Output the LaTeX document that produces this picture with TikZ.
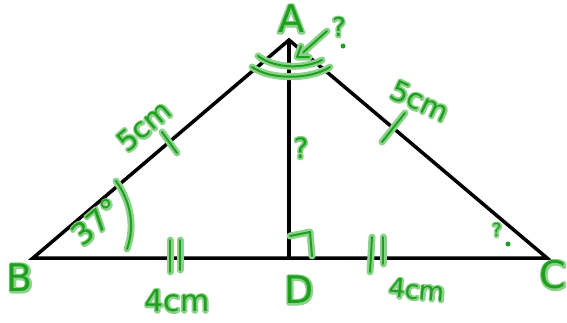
\documentclass[tikz,border=0pt]{standalone}
\usepackage{fontspec}
\setmainfont{DejaVu Sans}
\definecolor{hg}{RGB}{30,160,30}
\definecolor{halo}{RGB}{140,210,140}
\definecolor{tg}{RGB}{30,160,30}
\newcommand{\glowtxt}[1]{\rlap{\special{pdf:literal direct 0.55 0.82 0.55 RG 3.6 w 1 j 1 J 1 Tr}#1\special{pdf:literal direct 0 Tr}}#1}
\begin{document}
\begin{tikzpicture}[x=1pt,y=-1pt,
  edge/.style={draw=black,line width=3.5pt,line join=miter},
  hand/.style={draw=hg,line width=2pt,line cap=round,line join=round,
    preaction={draw=halo,line width=7pt,line cap=round,line join=round}},
  lab/.style={text=tg,inner sep=0pt,font=\fontsize{#1}{#1}\selectfont},
  lab/.default=30]
\useasboundingbox (0,0) rectangle (567,322);
\coordinate (A) at (289,40);
\coordinate (B) at (33,258);
\coordinate (C) at (547,258);
\coordinate (D) at (289,258);
\draw[edge] (B) -- (A) -- (C) -- cycle;
\draw[edge] (A) -- (D);
% marks
\draw[hand] (162,132) -- (177,153);
\draw[hand] (405,113) -- (382,142);
\draw[hand] (170,240) -- (170,272);
\draw[hand] (180,240) -- (180,270);
\draw[hand] (372,237) -- (370,272);
\draw[hand] (383,237) -- (383,264);
\draw[hand] (290,236) -- (310,232) -- (312,256);
\draw[hand] (116,181) .. controls (133,205) and (134,230) .. (127,249);
\draw[hand] (258,56) .. controls (275,69) and (305,69) .. (322,60);
\draw[hand] (252,67) .. controls (270,80) and (310,80) .. (330,67);
\draw[hand] (327,31) -- (298,57);
\draw[hand] (301,46) -- (297,57) -- (309,57);
\fill[hg] (343,46) circle (2.5);
\fill[hg] (508,244) circle (2.5);
% labels
\node[lab=38] (lA) at (291,19) {\glowtxt{A}};
\node[lab=38] (lB) at (20,278) {\glowtxt{B}};
\node[lab=38] (lC) at (553,275) {\glowtxt{C}};
\node[lab=38] (lD) at (299,290) {\glowtxt{D}};
\node[lab=28,rotate=40] (l5a) at (144,126) {\glowtxt{5cm}};
\node[lab=28,rotate=-25] (l5b) at (420,101) {\glowtxt{5cm}};
\node[lab=30] (l4a) at (177,301) {\glowtxt{4cm}};
\node[lab=26,rotate=-5] (l4b) at (417,290) {\glowtxt{4cm}};
\node[lab=30,rotate=40] (l37) at (96,222) {\glowtxt{37°}};
\node[lab=28] (qm) at (301,148) {\glowtxt{?}};
\node[lab=26] (qa) at (339,27) {\glowtxt{?}};
\node[lab=18] (qc) at (497,230) {\glowtxt{?}};
\end{tikzpicture}
\end{document}
